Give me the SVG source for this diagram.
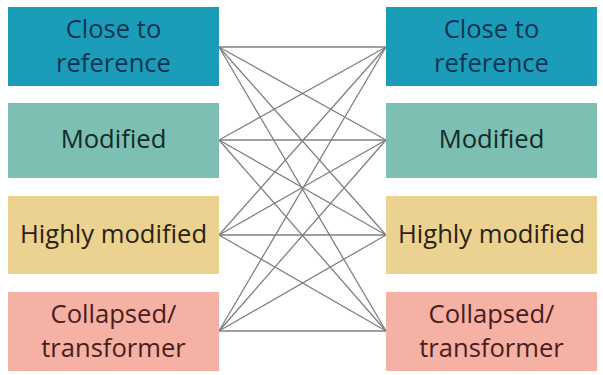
<svg xmlns="http://www.w3.org/2000/svg" width="603" height="375" viewBox="0 0 603 375">
<style>
text{font-family:"Open Sans","Noto Sans","Liberation Sans",sans-serif;font-size:25.6px;text-anchor:middle}
.c1{fill:#1b9cb9}.c2{fill:#7ebfb3}.c3{fill:#ebd291}.c4{fill:#f5b1a4}
.t1{fill:#0f3552}.t2{fill:#112b29}.t3{fill:#2b2212}.t4{fill:#4a1d1e}
#connectors line{stroke:#808080;stroke-width:1.3}
</style>
<rect width="603" height="375" fill="#ffffff"/>
<g id="connectors">
<line x1="219" y1="47" x2="386" y2="47"/>
<line x1="219" y1="47" x2="386" y2="140"/>
<line x1="219" y1="47" x2="386" y2="235"/>
<line x1="219" y1="47" x2="386" y2="331"/>
<line x1="219" y1="140" x2="386" y2="47"/>
<line x1="219" y1="140" x2="386" y2="140"/>
<line x1="219" y1="140" x2="386" y2="235"/>
<line x1="219" y1="140" x2="386" y2="331"/>
<line x1="219" y1="235" x2="386" y2="47"/>
<line x1="219" y1="235" x2="386" y2="140"/>
<line x1="219" y1="235" x2="386" y2="235"/>
<line x1="219" y1="235" x2="386" y2="331"/>
<line x1="219" y1="331" x2="386" y2="47"/>
<line x1="219" y1="331" x2="386" y2="140"/>
<line x1="219" y1="331" x2="386" y2="235"/>
<line x1="219" y1="331" x2="386" y2="331"/>
</g>
<g id="left-close">
<rect class="c1" x="8" y="7" width="211" height="79"/>
<text class="t1" x="113.5" y="38">Close to</text>
<text class="t1" x="113.5" y="72">reference</text>
</g>
<g id="left-modified">
<rect class="c2" x="8" y="103" width="211" height="75"/>
<text class="t2" x="113.5" y="148">Modified</text>
</g>
<g id="left-highly">
<rect class="c3" x="8" y="196" width="211" height="78"/>
<text class="t3" x="113.5" y="243">Highly modified</text>
</g>
<g id="left-collapsed">
<rect class="c4" x="8" y="292" width="211" height="79"/>
<text class="t4" x="113.5" y="323">Collapsed/</text>
<text class="t4" x="113.5" y="357">transformer</text>
</g>
<g id="right-close">
<rect class="c1" x="386" y="7" width="211" height="79"/>
<text class="t1" x="491.5" y="38">Close to</text>
<text class="t1" x="491.5" y="72">reference</text>
</g>
<g id="right-modified">
<rect class="c2" x="386" y="103" width="211" height="75"/>
<text class="t2" x="491.5" y="148">Modified</text>
</g>
<g id="right-highly">
<rect class="c3" x="386" y="196" width="211" height="78"/>
<text class="t3" x="491.5" y="243">Highly modified</text>
</g>
<g id="right-collapsed">
<rect class="c4" x="386" y="292" width="211" height="79"/>
<text class="t4" x="491.5" y="323">Collapsed/</text>
<text class="t4" x="491.5" y="357">transformer</text>
</g>
</svg>
